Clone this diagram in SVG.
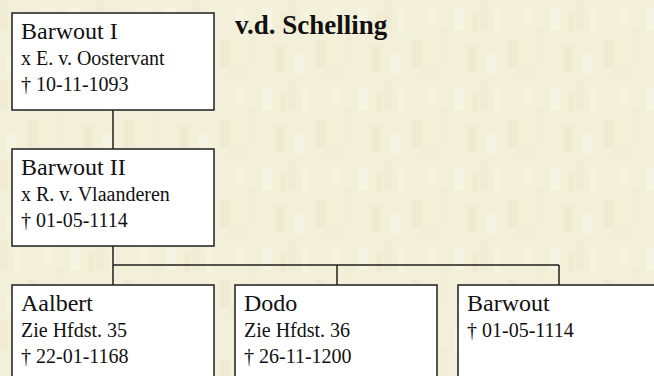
<svg xmlns="http://www.w3.org/2000/svg" width="654" height="376" viewBox="0 0 654 376">
  <defs>
    <pattern id="tex" x="0" y="0" width="96" height="80" patternUnits="userSpaceOnUse">
      <rect width="96" height="80" fill="#f3f0da"/>
      <rect x="0" y="0" width="8" height="30" fill="#f0ecd4"/>
      <rect x="14" y="10" width="6" height="24" fill="#f5f4e0"/>
      <rect x="28" y="40" width="10" height="28" fill="#efead2"/>
      <rect x="44" y="4" width="8" height="20" fill="#f5f3de"/>
      <rect x="58" y="30" width="6" height="34" fill="#f1edd6"/>
      <rect x="70" y="8" width="10" height="22" fill="#f6f5e2"/>
      <rect x="84" y="46" width="8" height="26" fill="#efe9d1"/>
      <rect x="6" y="54" width="10" height="20" fill="#f5f4e0"/>
      <rect x="38" y="66" width="12" height="14" fill="#f1edd6"/>
      <rect x="88" y="14" width="6" height="18" fill="#f0ebd3"/>
    </pattern>
    <style>
      .box { fill: #ffffff; stroke: #1e1e1e; stroke-width: 1.5; }
      .conn line { stroke: #1e1e1e; stroke-width: 1.5; }
      .name { font-family: "Liberation Serif", "DejaVu Serif", serif; font-size: 24px; fill: #111; }
      .info { font-family: "Liberation Serif", "DejaVu Serif", serif; font-size: 20px; fill: #111; }
      .title { font-family: "Liberation Serif", "DejaVu Serif", serif; font-size: 27px; font-weight: bold; fill: #111; }
    </style>
  </defs>
  <rect width="654" height="376" fill="url(#tex)"/>

  <text class="title" x="235" y="34">v.d. Schelling</text>

  <g id="connectors" class="conn">
    <line x1="113" y1="110" x2="113" y2="149"/>
    <line x1="113" y1="246" x2="113" y2="285"/>
    <line x1="113" y1="265" x2="559" y2="265"/>
    <line x1="337" y1="265" x2="337" y2="285"/>
    <line x1="559" y1="265" x2="559" y2="285"/>
  </g>

  <g id="barwout-i">
    <rect class="box" x="12" y="13" width="202" height="97"/>
    <text class="name" x="21" y="39">Barwout I</text>
    <text class="info" x="21" y="65">x E. v. Oostervant</text>
    <text class="info" x="21" y="91">† 10-11-1093</text>
  </g>

  <g id="barwout-ii">
    <rect class="box" x="12" y="149" width="202" height="97"/>
    <text class="name" x="21" y="175">Barwout II</text>
    <text class="info" x="21" y="201">x R. v. Vlaanderen</text>
    <text class="info" x="21" y="227">† 01-05-1114</text>
  </g>

  <g id="aalbert">
    <rect class="box" x="12" y="285" width="202" height="100"/>
    <text class="name" x="21" y="311">Aalbert</text>
    <text class="info" x="21" y="337">Zie Hfdst. 35</text>
    <text class="info" x="21" y="363">† 22-01-1168</text>
  </g>

  <g id="dodo">
    <rect class="box" x="235" y="285" width="202" height="100"/>
    <text class="name" x="244" y="311">Dodo</text>
    <text class="info" x="244" y="337">Zie Hfdst. 36</text>
    <text class="info" x="244" y="363">† 26-11-1200</text>
  </g>

  <g id="barwout">
    <rect class="box" x="458" y="285" width="202" height="100"/>
    <text class="name" x="467" y="311">Barwout</text>
    <text class="info" x="467" y="337">† 01-05-1114</text>
  </g>
</svg>
